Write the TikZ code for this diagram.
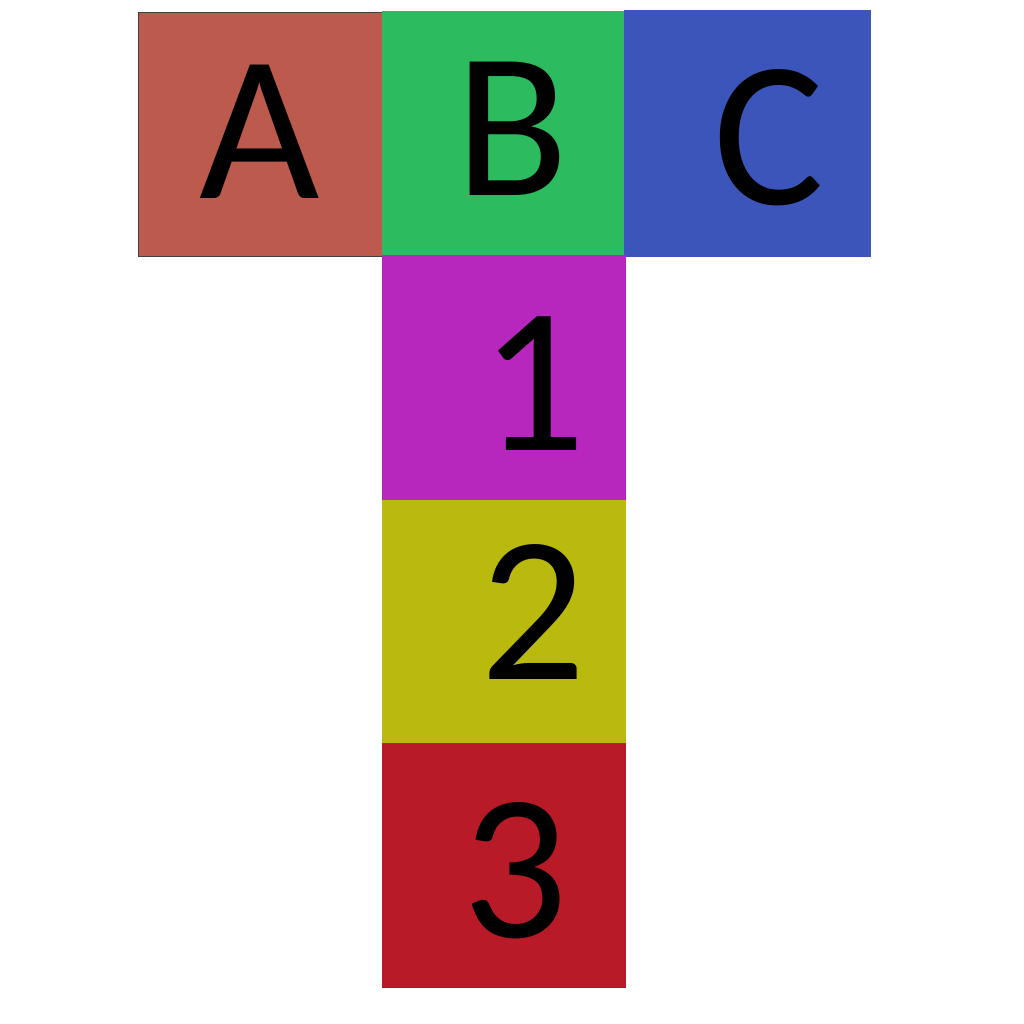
\documentclass[tikz,border=0pt]{standalone}
\usepackage{fontspec}
\setmainfont{Carlito}
\usepackage{tikz}
\usetikzlibrary{calc}

\definecolor{tileA}{RGB}{188,90,77}
\definecolor{tileB}{RGB}{45,187,96}
\definecolor{tileC}{RGB}{60,85,187}
\definecolor{tileOne}{RGB}{183,39,189}
\definecolor{tileTwo}{RGB}{185,186,13}
\definecolor{tileThree}{RGB}{185,26,40}

\begin{document}
\begin{tikzpicture}[x=1pt,y=-1pt]
\tikzset{
	tile label/.style = {anchor = base, inner sep = 0, font = \fontsize{208}{208}\selectfont},
}
\useasboundingbox (0,0) rectangle (1024,1024);
% top row
\fill[tileA] (138,12) rectangle (382,256);
\draw[black!75, line width = 0.8] (382,12) -- (138,12) -- (138,256) -- (382,256);
\fill[tileB] (382,11) rectangle (624,255);
\fill[tileC] (624,10) rectangle (871,256.5);
% column
\fill[tileOne] (382,255) rectangle (626,500);
\fill[tileTwo] (382,500) rectangle (626,743);
\fill[tileThree] (382,743) rectangle (626,987.5);
% labels
\node(A)[tile label] at (260,199) {A};
\node(B)[tile label] at (512,196) {B};
\node(C)[tile label] at (769,205) {C};
\node(one)[tile label] at (533,450) {1};
\node(two)[tile label] at (533,679) {2};
\node(three)[tile label] at (515,937) {3};
\end{tikzpicture}
\end{document}
